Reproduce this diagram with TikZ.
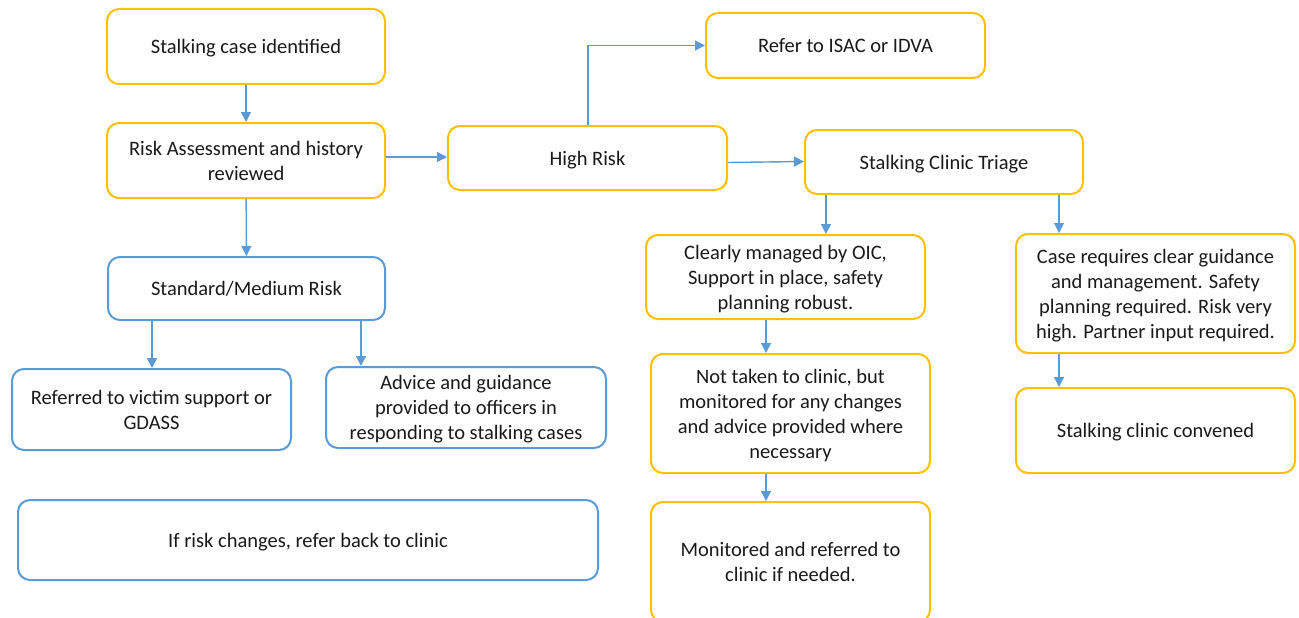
\documentclass[tikz,border=0pt]{standalone}
\usepackage{fontspec}
\setmainfont{Carlito}
\usetikzlibrary{arrows.meta}
\definecolor{gold}{HTML}{FFC000}
\definecolor{bluebox}{HTML}{5B9BD5}
\definecolor{arrowc}{HTML}{5B9BD5}
\definecolor{txt}{HTML}{1A1A1A}
\tikzset{
  box/.style={rounded corners=12pt, line width=2pt, fill=white, align=center,
    inner sep=0pt, text depth=0pt, text=txt, font=\fontsize{20.5}{25}\selectfont},
  ybox/.style={box, draw=gold},
  bbox/.style={box, draw=bluebox},
  arr/.style={draw=arrowc, line width=1.4pt, -{Triangle[width=10pt,length=10pt]}}
}
\begin{document}
\begin{tikzpicture}[x=1pt,y=-1pt]
\useasboundingbox (0,0) rectangle (1299,618);
\node[ybox, minimum width=278, minimum height=75] (n1) at (246,46.5) {Stalking case identified};
\node[ybox, minimum width=278, minimum height=75] (n2) at (246,160.5) {Risk Assessment and history\\reviewed};
\node[bbox, minimum width=277, minimum height=63] (n3) at (246.5,288.5) {Standard/Medium Risk};
\node[bbox, minimum width=279, minimum height=81] (n4) at (151.5,409.5) {Referred to victim support or\\GDASS};
\node[bbox, minimum width=280, minimum height=81] (n5) at (466,407.5) {Advice and guidance\\provided to officers in\\responding to stalking cases};
\node[bbox, minimum width=580, minimum height=80] (n6) at (308,540) {If risk changes, refer back to clinic};
\node[ybox, minimum width=279, minimum height=64] (n7) at (587.5,158) {High Risk};
\node[ybox, minimum width=279, minimum height=65] (n8) at (845.5,45.5) {Refer to ISAC or IDVA};
\node[ybox, minimum width=278, minimum height=64] (n9) at (944,162) {Stalking Clinic Triage};
\node[ybox, minimum width=279, minimum height=84] (n10) at (785.5,277) {Clearly managed by OIC,\\Support in place, safety\\planning robust.};
\node[ybox, minimum width=279, minimum height=119] (n11) at (790.5,413.5) {Not taken to clinic, but\\monitored for any changes\\and advice provided where\\necessary};
\node[ybox, minimum width=279, minimum height=120] (n12) at (790.5,562) {Monitored and referred to\\clinic if needed.};
\node[ybox, minimum width=279, minimum height=119] (n13) at (1155.5,293.5) {Case requires clear guidance\\and management. Safety\\planning required. Risk very\\high. Partner input required.};
\node[ybox, minimum width=279, minimum height=85] (n14) at (1155.5,430.5) {Stalking clinic convened};

\coordinate (c4) at (152,0);
\coordinate (c5) at (361,0);
\coordinate (c8) at (588,0);
\coordinate (c10) at (826,0);
\coordinate (c13) at (1059,0);
\coordinate (c11) at (766,0);
\coordinate (r2) at (0,157);
\coordinate (r7) at (0,162.5);
\coordinate (r9) at (0,161.5);

\draw[arr] (n1) -- (n2);
\draw[arr] (n2) -- (n3);
\draw[arr] (n2.east |- r2) -- (n7.west |- r2);
\draw[arr] (n3.south -| c4) -- (n4.north -| c4);
\draw[arr] (n3.south -| c5) -- (n5.north -| c5);
\draw[arr] (n7.north -| c8) |- (n8.west);
\draw[arr] (n7.east |- r7) -- (n9.west |- r9);
\draw[arr] (n9.south -| c10) -- (n10.north -| c10);
\draw[arr] (n9.south -| c13) -- (n13.north -| c13);
\draw[arr] (n10.south -| c11) -- (n11.north -| c11);
\draw[arr] (n11.south -| c11) -- (n12.north -| c11);
\draw[arr] (n13.south -| c13) -- (n14.north -| c13);
\end{tikzpicture}
\end{document}
